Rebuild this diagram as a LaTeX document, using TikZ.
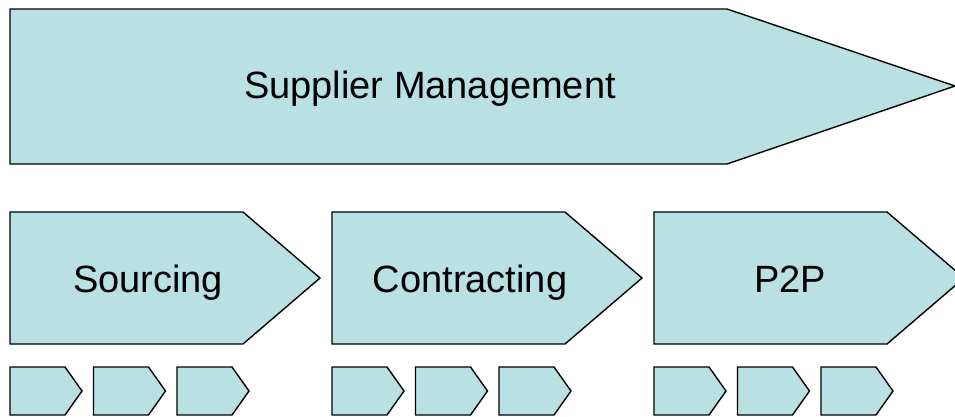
\documentclass[tikz,border=0pt]{standalone}
\usepackage{fontspec}
\setmainfont{Liberation Sans}
\definecolor{stagefill}{RGB}{185,224,226}

\begin{document}
\begin{tikzpicture}[
        x=1pt, y=-1pt,
        stage/.style={draw, fill=stagefill, line width=1.4pt, line join=miter},
        stagetext/.style={font=\fontsize{38}{42}\selectfont, anchor=base, inner sep=0pt}
      ]
      \useasboundingbox (0,0) rectangle (955,417);
      % top chevron
      \draw[stage] (10,9) -- (727,9) -- (955,86) -- (727,164) -- (10,164) -- cycle;
      \node[stagetext] (supplier) at (430,99) {Supplier Management};
      % stages and their steps
      \foreach \x/\name/\txt/\tx in {10/sourcing/Sourcing/148, 332/contracting/Contracting/470, 654/ptwop/P2P/790} {
        \draw[stage] (\x,212) -- ++(233,0) -- ++(77,66) -- ++(-77,66) -- ++(-233,0) -- cycle;
        \node[stagetext] (\name) at (\tx,292) {\txt};
        \foreach \i in {0,1,2}
          \draw[stage] (\x+83.5*\i,367) -- ++(55,0) -- ++(17,24) -- ++(-17,24) -- ++(-55,0) -- cycle;
      }
      \end{tikzpicture}
\end{document}
